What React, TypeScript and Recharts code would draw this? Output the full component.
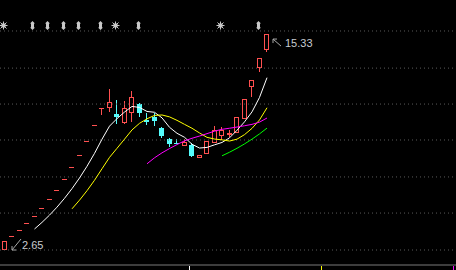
import React from 'react';
import { ComposedChart, Bar, Line, XAxis, YAxis, ReferenceLine, ReferenceDot, Scatter } from 'recharts';

const days = [0,1,2,3,4,5,6,7,8,9,10,11,12,13,14,15,16,17,18,19,20,21,22,23,24,25,26,27,28,29,30,31,32,33,34,35];
const opens = [2.65,3.50,3.85,4.23,4.66,5.12,5.63,6.20,6.82,7.50,8.25,9.07,9.98,10.98,10.99,10.63,10.10,10.69,11.22,10.28,10.46,9.81,9.17,8.95,8.75,8.81,8.05,8.29,8.93,9.34,9.40,9.52,10.34,12.22,13.33,14.39];
const closes = [3.18,3.50,3.85,4.23,4.66,5.12,5.63,6.20,6.82,7.50,8.25,9.07,9.98,10.98,11.34,10.46,10.99,11.63,10.69,10.16,10.22,9.34,8.87,8.93,8.99,8.17,8.23,9.05,9.69,9.69,9.52,10.46,11.51,12.63,13.92,15.33];
const highs = [3.18,3.50,3.85,4.23,4.66,5.12,5.63,6.20,6.82,7.50,8.25,9.07,9.98,10.98,12.10,11.46,11.40,11.98,11.28,10.69,10.69,9.87,9.22,9.17,9.17,8.93,8.23,9.05,9.93,9.87,9.69,10.46,11.51,12.63,13.92,15.33];
const lows = [2.65,3.50,3.85,4.23,4.66,5.12,5.63,6.20,6.82,7.50,8.25,9.07,9.98,10.60,10.75,10.05,10.05,10.16,10.46,10.00,9.93,9.22,8.70,8.87,8.75,8.11,8.05,8.29,8.93,9.11,9.28,9.52,10.34,11.63,13.10,14.27];

const maPeriods = [5, 10, 20, 30];
const maColors = ['#ffffff', '#ffff00', '#ff00ff', '#00ff00'];

const markerIdx = [0, 4, 6, 8, 10, 13, 15, 18, 29, 34];
const markerKind = ['star', 'arrow', 'arrow', 'arrow', 'arrow', 'arrow', 'star', 'arrow', 'star', 'arrow'];
const markerLevel = 15.86;

const gridPrices = [2.65, 4.82, 6.94, 9.11, 11.22, 13.33, 15.51];
const xTicks = [24.6, 42.2, 59.8];
const xTickColors = ['#ffffff', '#ffff00', '#ff00ff'];

const RED = '#ff5050';
const CYAN = '#54fcfc';
const LABEL = '#c8ccd0';

const movingAvg = (n: number) =>
  closes.map((_, i) => {
    if (i < n - 1) return null;
    let s = 0;
    for (let k = i - n + 1; k <= i; k++) s += closes[k];
    return s / n;
  });

const maSeries = maPeriods.map((p) => movingAvg(p));

const data = days.map((d, i) => {
  const row: any = { i: d, open: opens[i], close: closes[i], high: highs[i], low: lows[i] };
  maPeriods.forEach((p, k) => { row['ma' + p] = maSeries[k][i]; });
  return row;
});

const markers = markerIdx.map((d, k) => ({ i: d, y: markerLevel, kind: markerKind[k] }));

let maxI = 0, minI = 0;
highs.forEach((h, i) => { if (h > highs[maxI]) maxI = i; });
lows.forEach((l, i) => { if (l < lows[minI]) minI = i; });

const Candle = (props: any) => {
  const { x, y, width, height, payload } = props;
  if (!payload) return null;
  const { open, close, high, low } = payload;
  const top = Math.min(y, y + height);
  const bot = Math.max(y, y + height);
  const span = high - low;
  const py = (v: number) => (span > 0 ? top + ((high - v) / span) * (bot - top) : top);
  const up = close >= open;
  const color = up ? RED : CYAN;
  const cx = x + width / 2;
  const L = Math.round(cx - 2.5);
  const wx = L + 2.5;
  const bTop = Math.round(py(Math.max(open, close)));
  const bBot = Math.round(py(Math.min(open, close)));
  const hTop = Math.round(top);
  const lBot = Math.round(bot);
  const els: any[] = [];
  if (lBot - hTop >= 1) {
    els.push(<line key="w" x1={wx} x2={wx} y1={hTop} y2={lBot} stroke={color} strokeWidth={1} />);
  }
  if (bBot - bTop < 1) {
    els.push(<rect key="b" x={L} y={bTop} width={5} height={1} fill={color} />);
  } else if (up) {
    els.push(<rect key="b" x={L + 0.5} y={bTop + 0.5} width={4} height={bBot - bTop - 1} fill="#000" stroke={color} strokeWidth={1} />);
  } else {
    els.push(<rect key="b" x={L} y={bTop} width={5} height={bBot - bTop} fill={color} />);
  }
  return <g shapeRendering="crispEdges">{els}</g>;
};

const Marker = (props: any) => {
  const { cx, cy, payload } = props;
  const x = Math.round(cx) - 1.5;
  const y = Math.round(cy) + 0.5;
  const c = '#c8c8c8';
  if (payload.kind === 'star') {
    return (
      <g>
        <line x1={x - 4} x2={x + 4} y1={y} y2={y} stroke={c} strokeWidth={1} />
        <line x1={x} x2={x} y1={y - 4} y2={y + 4} stroke={c} strokeWidth={1} />
        <line x1={x - 3} x2={x + 3} y1={y - 3} y2={y + 3} stroke={c} strokeWidth={1} />
        <line x1={x - 3} x2={x + 3} y1={y + 3} y2={y - 3} stroke={c} strokeWidth={1} />
        <rect x={x - 2} y={y - 2} width={4} height={4} fill={c} />
      </g>
    );
  }
  const pts = [
    [0, -4.5], [2.5, -2], [1.5, -2], [1.5, 2], [2.5, 2], [0, 4.5], [-2.5, 2], [-1.5, 2], [-1.5, -2], [-2.5, -2],
  ].map(([a, b]) => `${x + a},${y + b}`).join(' ');
  return <polygon points={pts} fill={c} />;
};

const MaxLabel = (props: any) => {
  const { cx, cy } = props;
  const tx = cx + 6, ty = cy + 5;
  return (
    <g>
      <line x1={cx + 14} y1={cy + 12} x2={tx} y2={ty} stroke="#a8a8a8" strokeWidth={1} />
      <line x1={tx} y1={ty} x2={tx} y2={ty + 4} stroke="#a8a8a8" strokeWidth={1} />
      <line x1={tx} y1={ty} x2={tx + 4} y2={ty} stroke="#a8a8a8" strokeWidth={1} />
      <text x={cx + 18} y={cy + 9} fill={LABEL} fontSize={11} fontFamily="Liberation Sans, Arial, sans-serif" dominantBaseline="central">
        {highs[maxI].toFixed(2)}
      </text>
    </g>
  );
};

const MinLabel = (props: any) => {
  const { cx, cy } = props;
  const tx = cx + 7.5, ty = cy;
  return (
    <g>
      <line x1={cx + 16.5} y1={cy - 11} x2={tx} y2={ty} stroke="#a8a8a8" strokeWidth={1} />
      <line x1={tx} y1={ty} x2={tx} y2={ty - 4} stroke="#a8a8a8" strokeWidth={1} />
      <line x1={tx} y1={ty} x2={tx + 4} y2={ty} stroke="#a8a8a8" strokeWidth={1} />
      <text x={cx + 17.5} y={cy - 5} fill={LABEL} fontSize={11} fontFamily="Liberation Sans, Arial, sans-serif" dominantBaseline="central">
        {lows[minI].toFixed(2)}
      </text>
    </g>
  );
};

const BottomTick = (props: any) => {
  const { x, y, payload } = props;
  const k = Math.max(0, xTicks.indexOf(payload && payload.value));
  const px = Math.round(x) + 0.5;
  return <line x1={px} x2={px} y1={y + 1} y2={y + 5} stroke={xTickColors[k]} strokeWidth={1} />;
};

export default function App() {
  return (
    <div style={{ position: 'absolute', left: 0, top: 0, width: 456, height: 270, background: '#000', overflow: 'hidden' }}>
      <ComposedChart width={456} height={270} data={data} margin={{ top: 0, right: 0, bottom: 0, left: 0 }}>
        <XAxis
          dataKey="i"
          type="number"
          domain={[-0.6, 60.2]}
          allowDataOverflow
          ticks={xTicks}
          height={5}
          tickSize={0}
          tickMargin={0}
          axisLine={{ stroke: '#7a7a7a', strokeWidth: 1 }}
          tickLine={false}
          tick={<BottomTick />}
          interval={0}
        />
        <YAxis type="number" domain={[1.77, 17.33]} allowDataOverflow hide />
        {gridPrices.map((g) => (
          <ReferenceLine key={g} y={g} stroke="#5a5a5a" strokeDasharray="1 3" ifOverflow="extendDomain" />
        ))}
        <Bar dataKey={(d: any) => [d.low, d.high]} barSize={5} shape={<Candle />} isAnimationActive={false} />
        {maPeriods.map((p, k) => (
          <Line
            key={p}
            dataKey={'ma' + p}
            type="linear"
            stroke={maColors[k]}
            strokeWidth={1}
            dot={false}
            activeDot={false}
            isAnimationActive={false}
            connectNulls={false}
          />
        ))}
        <Scatter data={markers} dataKey="y" shape={<Marker />} isAnimationActive={false} />
        <ReferenceDot x={days[maxI]} y={highs[maxI]} r={0} shape={<MaxLabel />} />
        <ReferenceDot x={days[minI]} y={lows[minI]} r={0} shape={<MinLabel />} />
      </ComposedChart>
    </div>
  );
}
